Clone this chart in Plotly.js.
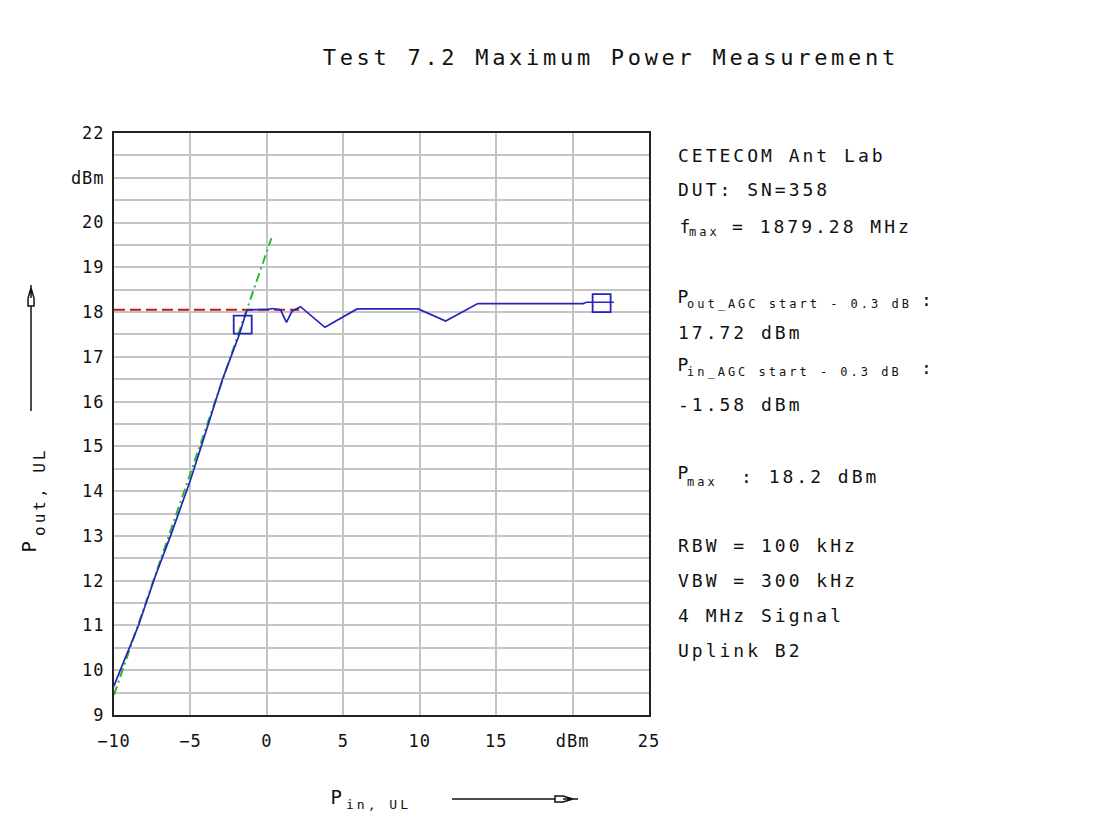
<!DOCTYPE html>
<html>
<head>
<meta charset="utf-8">
<script src="https://cdn.plot.ly/plotly-3.0.1.min.js"></script>
<style>
  html, body { margin: 0; padding: 0; background: #ffffff; }
  #chart { width: 1094px; height: 829px; }
  .gtitle { letter-spacing: 3.7px; }
  .annotation-text { letter-spacing: 3px; }
  .xtick text, .ytick text { letter-spacing: 1px; }
</style>
<style id="tight"></style>
</head>
<body>
<div id="chart"></div>
<script>
// Measured curve: P_out vs P_in (dBm)
const pinUL  = [-10, -9.9, -8.4, -7.3, -6.3, -5.0, -4.2, -2.9, -1.8, -1.3, 0.1, 0.35, 0.9, 1.28, 1.65, 2.2, 3.8, 5.9, 9.9, 11.7, 13.8, 20.7, 20.9, 22.7];
const poutUL = [9.64, 9.74, 11.0, 12.1, 13.0, 14.25, 15.1, 16.5, 17.5, 18.05, 18.06, 18.08, 18.05, 17.77, 18.02, 18.12, 17.66, 18.07, 18.07, 17.8, 18.19, 18.19, 18.22, 18.22];

// AGC start reference (red dashed)
const agcX = [-10, 2.1];
const agcY = [18.05, 18.05];

// Linear gain reference (green dash-dot)
const linX = [-10, 0.3];
const linY = [9.45, 19.65];

// Markers
const agcPointX = [-1.58];
const agcPointY = [17.72];
const maxPointX = [21.9];
const maxPointY = [18.2];

// Tick labels
const yTickVals = [9, 10, 11, 12, 13, 14, 15, 16, 17, 18, 19, 20, 21, 22];
const yTickText = ['9', '10', '11', '12', '13', '14', '15', '16', '17', '18', '19', '20', 'dBm', '22'];
const xTickVals = [-10, -5, 0, 5, 10, 15, 20, 25];
const xTickText = ['\u221210', '\u22125', '0', '5', '10', '15', 'dBm', '25'];

const FONT = 'DejaVu Sans Mono, Liberation Mono, monospace';
const BLUE = '#2424bc';

const traces = [
  { x: agcX, y: agcY, mode: 'lines', line: { color: '#c01818', width: 2, dash: '11px,5px' }, hoverinfo: 'skip' },
  { x: linX, y: linY, mode: 'lines', line: { color: '#2cb82c', width: 2, dash: '9px,4px,2px,4px' }, hoverinfo: 'skip' },
  { x: pinUL, y: poutUL, mode: 'lines', line: { color: BLUE, width: 1.7 } },
  { x: agcPointX, y: agcPointY, mode: 'markers', marker: { symbol: 'square-open', size: 18, color: BLUE, line: { width: 1.8, color: BLUE } } },
  { x: maxPointX, y: maxPointY, mode: 'markers', marker: { symbol: 'square-open', size: 18, color: BLUE, line: { width: 1.8, color: BLUE } } }
];

// pixel -> paper helpers
const PL = 114, PW = 535, PB = 715, PH = 582;
const px = v => (v - PL) / PW;
const py = v => (PB - v) / PH;

const annotations = [];
const tightIdx = [];
function addText(text, xPx, yPx, size, extra, tight) {
  if (tight) tightIdx.push(annotations.length);
  annotations.push(Object.assign({
    text: text, xref: 'paper', yref: 'paper', x: px(xPx), y: py(yPx),
    xanchor: 'left', yanchor: 'middle', showarrow: false, borderpad: 0,
    font: { family: FONT, size: size, color: '#111' }
  }, extra || {}));
}

const MAIN = 18, SUB = 12;
// Info block (right side)
addText('CETECOM Ant Lab', 677, 156, MAIN);
addText('DUT: SN=358', 677, 189, MAIN);
addText('f', 677, 226, MAIN, null, true);
addText('max', 688, 232, SUB);
addText('= 1879.28 MHz', 731, 226, MAIN);
addText('P', 675, 296, MAIN, null, true);
addText('out_AGC start - 0.3 dB', 686, 304, SUB);
addText(':', 920, 299, MAIN);
addText('17.72 dBm', 677, 332, MAIN);
addText('P', 675, 364, MAIN, null, true);
addText('in_AGC start - 0.3 dB', 686, 372, SUB);
addText(':', 920, 367, MAIN);
addText('-1.58 dBm', 677, 404, MAIN);
addText('P', 675, 473, MAIN, null, true);
addText('max', 686, 482, SUB);
addText(': 18.2 dBm', 740, 476, MAIN);
addText('RBW = 100 kHz', 677, 545, MAIN);
addText('VBW = 300 kHz', 677, 580, MAIN);
addText('4 MHz Signal', 677, 615, MAIN);
addText('Uplink B2', 677, 650, MAIN);

// X axis title
addText('P', 328, 797, 19, null, true);
addText('in, UL', 345, 805, 13);
// Y axis title (rotated)
addText('P', 29, 547, 19, { textangle: -90, xanchor: 'center', yanchor: 'middle', x: px(29) }, true);
addText('out, UL', 39, 537, 16, { textangle: -90, xanchor: 'center', yanchor: 'bottom', x: px(39) });

document.getElementById('tight').textContent =
  tightIdx.map(i => `g.annotation[data-index="${i}"] text`).join(', ') + ' { letter-spacing: 0px; }';

const arrowLine = { color: '#111', width: 1.5 };
const f = v => v.toFixed(4);
const shapes = [
  // x arrow
  { type: 'line', xref: 'paper', yref: 'paper', x0: px(452), x1: px(555), y0: py(799), y1: py(799), line: arrowLine },
  { type: 'path', xref: 'paper', yref: 'paper', line: arrowLine,
    path: `M ${f(px(555))} ${f(py(796))} L ${f(px(563))} ${f(py(796))} L ${f(px(573))} ${f(py(799))} L ${f(px(563))} ${f(py(802))} L ${f(px(555))} ${f(py(802))} Z M ${f(px(563))} ${f(py(799))} L ${f(px(578))} ${f(py(799))}` },
  // y arrow
  { type: 'line', xref: 'paper', yref: 'paper', x0: px(31), x1: px(31), y0: py(411), y1: py(306), line: arrowLine },
  { type: 'path', xref: 'paper', yref: 'paper', line: arrowLine,
    path: `M ${f(px(28))} ${f(py(306))} L ${f(px(28))} ${f(py(298))} L ${f(px(31))} ${f(py(288))} L ${f(px(34))} ${f(py(298))} L ${f(px(34))} ${f(py(306))} Z M ${f(px(31))} ${f(py(298))} L ${f(px(31))} ${f(py(285))}` }
];

const layout = {
  width: 1094, height: 829,
  margin: { l: 114, r: 445, t: 133, b: 114 },
  paper_bgcolor: '#ffffff', plot_bgcolor: '#ffffff',
  showlegend: false,
  title: {
    text: 'Test 7.2 Maximum Power Measurement',
    xref: 'container', yref: 'container', x: 0.295, xanchor: 'left', y: 0.931, yanchor: 'middle',
    font: { family: FONT, size: 22, color: '#111' }
  },
  xaxis: {
    range: [-10, 25], tickmode: 'array', tickvals: xTickVals, ticktext: xTickText,
    showgrid: true, gridcolor: '#c4c4c4', gridwidth: 2, zeroline: false,
    showline: true, mirror: true, linecolor: '#222', linewidth: 2,
    ticks: '', ticklabelstandoff: 10,
    tickfont: { family: FONT, size: 17, color: '#111' }
  },
  yaxis: {
    range: [9, 22], tickmode: 'array', tickvals: yTickVals, ticktext: yTickText,
    showgrid: true, gridcolor: '#c4c4c4', gridwidth: 2, zeroline: false,
    minor: { tickmode: 'linear', tick0: 9, dtick: 0.5, showgrid: true, gridcolor: '#c4c4c4', gridwidth: 2, ticks: '' },
    showline: true, mirror: true, linecolor: '#222', linewidth: 2,
    ticks: '', ticklabelstandoff: 4,
    tickfont: { family: FONT, size: 17, color: '#111' }
  },
  shapes: shapes,
  annotations: annotations
};

Plotly.newPlot('chart', traces, layout, { displayModeBar: false, staticPlot: true });
</script>
</body>
</html>
